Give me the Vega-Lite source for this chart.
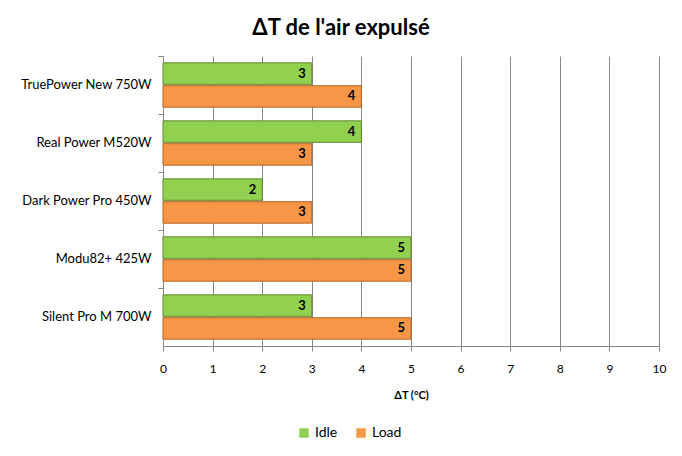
{
  "$schema": "https://vega.github.io/schema/vega-lite/v6.json",
  "width": 496,
  "height": 290,
  "padding": {"left": 0, "top": 16, "right": 10, "bottom": 5},
  "background": "white",
  "config": {"font": "Lato", "view": {"stroke": null}},
  "title": {"text": "ΔT de l'air expulsé", "fontSize": 22, "fontWeight": "bold", "font": "Lato", "color": "#000000", "offset": 16, "anchor": "middle", "dx": -70},
  "data": {
    "values": [
      {"psu": "TruePower New 750W", "mode": "Idle", "dt": 3},
      {"psu": "TruePower New 750W", "mode": "Load", "dt": 4},
      {"psu": "Real Power M520W", "mode": "Idle", "dt": 4},
      {"psu": "Real Power M520W", "mode": "Load", "dt": 3},
      {"psu": "Dark Power Pro 450W", "mode": "Idle", "dt": 2},
      {"psu": "Dark Power Pro 450W", "mode": "Load", "dt": 3},
      {"psu": "Modu82+ 425W", "mode": "Idle", "dt": 5},
      {"psu": "Modu82+ 425W", "mode": "Load", "dt": 5},
      {"psu": "Silent Pro M 700W", "mode": "Idle", "dt": 3},
      {"psu": "Silent Pro M 700W", "mode": "Load", "dt": 5}
    ]
  },
  "encoding": {
    "y": {
      "field": "psu", "type": "nominal", "sort": null,
      "scale": {"paddingInner": 0, "paddingOuter": 0},
      "axis": {"title": null, "bandPosition": 0, "labelFontSize": 13, "labelColor": "#000000", "labelPadding": 7, "tickSize": 5, "tickColor": "#868686", "domainColor": "#868686", "minExtent": 163, "maxExtent": 163, "labelFont": "Lato"}
    },
    "yOffset": {"field": "mode", "type": "nominal", "scale": {"paddingInner": 0.06, "paddingOuter": 0.3}},
    "x": {
      "field": "dt", "type": "quantitative",
      "scale": {"domain": [0, 10], "nice": false},
      "axis": {"title": "ΔT (°C)", "titleFontSize": 11, "titleFontWeight": "bold", "titleColor": "#000000", "titlePadding": 15, "values": [0,1,2,3,4,5,6,7,8,9,10], "labelOverlap": false, "labelFlush": false, "labelFontSize": 12, "labelColor": "#000000", "labelPadding": 12, "tickSize": 5, "tickColor": "#868686", "domainColor": "#868686", "grid": true, "gridColor": "#868686", "gridWidth": 1, "labelFont": "Lato"}
    }
  },
  "layer": [
    {
      "mark": {"type": "bar", "strokeWidth": 1},
      "encoding": {
        "color": {
          "field": "mode", "type": "nominal",
          "scale": {"domain": ["Idle", "Load"], "range": ["#92D050", "#F79646"]},
          "legend": {"title": null, "orient": "none", "legendX": 134, "legendY": 370, "direction": "horizontal", "symbolType": "square", "symbolSize": 90, "labelFontSize": 14, "labelColor": "#000000", "labelFont": "Lato", "columnPadding": 16, "symbolStrokeWidth": 0}
        },
        "stroke": {
          "field": "mode", "type": "nominal",
          "scale": {"domain": ["Idle", "Load"], "range": ["#5f8a2c", "#b8631f"]},
          "legend": null
        }
      }
    },
    {
      "mark": {"type": "text", "align": "right", "dx": -6, "fontWeight": "bold", "fontSize": 13, "color": "#000000", "baseline": "middle"},
      "encoding": {"text": {"field": "dt", "type": "quantitative"}}
    }
  ]
}
